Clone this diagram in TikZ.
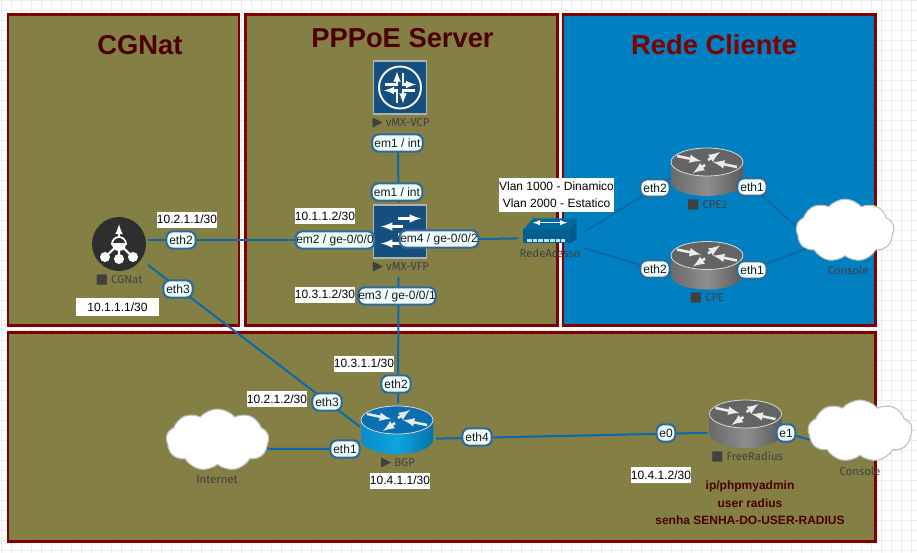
\documentclass[tikz,border=0pt]{standalone}
\usepackage{fontspec}
\setmainfont{Liberation Sans}
\newfontfamily\devfont{Fira Sans}
\newfontfamily\symfont{DejaVu Sans}
\usetikzlibrary{arrows,shapes.symbols}
\definecolor{olivepanel}{HTML}{837F45}
\definecolor{bluepanel}{HTML}{0180C1}
\definecolor{panelline}{HTML}{800000}
\definecolor{titlered}{HTML}{4D0000}
\definecolor{linkblue}{HTML}{0B69AB}
\definecolor{portline}{HTML}{2F6A9B}
\definecolor{juniper}{HTML}{144F7E}
\definecolor{greyleft}{HTML}{6A6A6A}
\definecolor{greymid}{HTML}{8E8E8E}
\definecolor{greyright}{HTML}{5A5A5A}
\definecolor{greytop}{HTML}{646464}
\definecolor{bgpleft}{HTML}{0A8CC8}
\definecolor{bgpmid}{HTML}{0EA5DC}
\definecolor{bgpright}{HTML}{0671AE}
\definecolor{bgptop}{HTML}{0A6FB0}
\newcommand{\sq}{{\symfont\fontsize{10}{10}\selectfont ■}\ }
\newcommand{\tri}{{\symfont\fontsize{10}{10}\selectfont ▶}\ }
\tikzset{
  panel/.style={draw=panelline,line width=2.5pt*0.75,fill=olivepanel},
  paneltitle/.style={inner sep=0pt,font=\fontsize{20.5}{24}\selectfont\bfseries,text=titlered},
  link/.style={draw=linkblue,line width=1.5pt},
  device/.style={inner sep=0pt,outer sep=0pt},
  port/.style={draw=portline,line width=1.6pt,fill=blue!4!cyan!6!white,rounded corners=5pt,inner sep=0pt,minimum height=13pt,text=black!90,font=\fontsize{9}{11}\selectfont},
  ipaddr/.style={fill=white,inner sep=0pt,minimum height=12pt,minimum width=45pt,font=\fontsize{9}{11}\selectfont},
  devname/.style={inner sep=0pt,text=black!75,font=\devfont\fontsize{8.5}{10}\selectfont},
  netcloud/.style={cloud,cloud puffs=9,cloud puff arc=100,draw=black!25,line width=0.8pt,fill=white,inner sep=0pt},
  note/.style={inner sep=0pt,text=titlered,font=\fontsize{9}{11}\selectfont\bfseries},
  pics/router/.style n args={4}{code={
    \path[shade,left color=#1,right color=#3,middle color=#2,shading angle=90] (-36,-10) -- (-36,10) arc[start angle=180,end angle=0,x radius=36,y radius=14] -- (36,-10) -- cycle;
    \draw[white!70!gray,line width=0.6pt,fill=#4] (0,-10) ellipse[x radius=36,y radius=14];
    \draw[line width=1.9pt,white!92!black,-latex] (-30,-16) -- (-6,-11);
    \draw[line width=1.9pt,white!92!black,-latex] (30,-5) -- (6,-10);
    \draw[line width=1.9pt,white!92!black,-latex] (1,-12) -- (13,-20);
    \draw[line width=1.9pt,white!92!black,-latex] (-2,-7) -- (-14,1);
  }},
  pics/junibox/.style={code={
    \draw[draw=black!30,line width=0.9pt,fill=juniper] (-26.5,-26.5) rectangle (26.5,26.5);
  }}
}
\begin{document}
\begin{tikzpicture}[x=0.75pt,y=-0.75pt]
\useasboundingbox (0,0) rectangle (917,553);
% grid
\foreach \gx in {0,...,91} \draw[black!8,line width=0.7pt] (1.7+10*\gx,0) -- (1.7+10*\gx,553);
\foreach \gy in {0,...,55} \draw[black!8,line width=0.7pt] (0,0.5+10*\gy) -- (917,0.5+10*\gy);

% panels
\draw[panel] (8.2,14.5) rectangle (238.8,325.5);
\draw[panel] (245.5,14.5) rectangle (557.3,325.5);
\draw[panel,fill=bluepanel] (563,14.5) rectangle (875.5,325.5);
\draw[panel] (8.2,332.3) rectangle (875.5,541.5);
\node[paneltitle] (tcgnat) at (140,45) {CGNat};
\node[paneltitle] (tpppoe) at (402.5,38) {PPPoE Server};
\node[paneltitle,text=panelline] (trede) at (714,45) {Rede Cliente};

% device areas, links start at their borders
\node[device,minimum width=43.5pt,minimum height=37.5pt] (cgnat) at (119,240) {};
\node[device,minimum width=39.75pt,minimum height=64.5pt] (vcp) at (398,104) {};
\node[device,minimum width=43.5pt,minimum height=55.5pt] (vfp) at (398.5,240) {};
\node[device,minimum width=49.5pt,minimum height=24pt] (rede) at (551,232) {};
\node[device,minimum width=54pt,minimum height=36pt] (cpe2) at (707,172) {};
\node[device,minimum width=54pt,minimum height=36pt] (cpe) at (707,265.5) {};
\node[device,minimum width=57pt,minimum height=43.5pt] (bgp) at (398,432) {};
\node[device,minimum width=57pt,minimum height=36pt] (radius) at (745.5,424) {};
\node[netcloud,minimum width=73.5pt,minimum height=47pt] (console) at (845,230.5) {};
\node[netcloud,minimum width=77pt,minimum height=46.5pt] (internet) at (217.5,440) {};
\node[netcloud,minimum width=78pt,minimum height=46.5pt] (console2) at (860,431) {};

% links
\draw[link] (vcp.south) -- (vfp.north);
\draw[link] (cgnat.east) -- (vfp.west);
\draw[link] (vfp.east) -- (rede.191);
\draw[link] (vfp.south) -- (bgp.north);
\draw[link] (cgnat.south east) -- (bgp.172);
\draw[link] (internet.-10) -- (bgp.204);
\draw[link] (bgp.-10) -- (radius.193);
\draw[link] (radius.-12) -- (console2.190);
\draw[link] (rede.east) -- (cpe2.190);
\draw[link] (rede.south east) -- (cpe.193);
\draw[link] (cpe2.-10) -- (console.175);
\draw[link] (cpe.-11) -- (console.205);

% icons
\pic at (400,87.5) {junibox};
\begin{scope}[shift={(400,87.5)}]
  \draw[white,line width=1.4pt] (0,0) circle (21);
  \foreach \rr in {0,90,180,270}
    \draw[rotate=\rr,white,line width=1.6pt,-latex] (-15,-3) -- (-3,-3) -- (-3,-16);
\end{scope}
\pic at (400,231.5) {junibox};
\begin{scope}[shift={(400,231.5)},white,line width=1.9pt,-latex]
  \draw (-2,-13) -- (21,-13);
  \draw (3,-5) -- (-19,-5);
  \draw (0,12) -- (-19,12);
  \draw (-2,3) -- (21,3);
\end{scope}
\begin{scope}[shift={(119,244)}]
  \fill[black!82] (0,0) circle (27);
  \draw[white,line width=1.6pt,-latex] (0,-5) -- (0,-20);
  \draw[white,line width=1.6pt] (0,0) -- (-14,13) (0,0) -- (0,15) (0,0) -- (14,13);
  \fill[white] (-14,13) circle (5) (0,15) circle (5) (14,13) circle (5);
  \draw[white,line width=1.3pt,fill=black!82] (-7,0) arc[start angle=180,end angle=360,x radius=7,y radius=7] -- cycle;
  \fill[white] (-7,0) arc[start angle=180,end angle=0,x radius=7,y radius=7] -- cycle;
\end{scope}
\begin{scope}[shift={(550,230)}]
  \fill[bluepanel!75!black] (-26.7,-0.7) -- (21,-0.7) -- (21,13.3) -- (-26.7,13.3) -- cycle;
  \fill[bluepanel!70!black] (21,-0.7) -- (26.7,-11.7) -- (26.7,8.3) -- (21,13.3) -- cycle;
  \fill[bluepanel!82!black] (-16.7,-11.7) -- (26.7,-11.7) -- (21,-0.7) -- (-26.7,-0.7) -- cycle;
  \draw[white,line width=0.8pt,latex-latex] (-17,-7.3) -- (17,-7.3);
  \draw[white!75!bluepanel,line width=2.4pt,dash pattern=on 3.5pt off 0.8pt] (-23,10.5) -- (15,10.5);
\end{scope}
\pic at (707,172) {router={greyleft}{greymid}{greyright}{greytop}};
\pic at (707,265.5) {router={greyleft}{greymid}{greyright}{greytop}};
\pic at (745.5,424) {router={greyleft}{greymid}{greyright}{greytop}};
\pic at (397,430) {router={bgpleft}{bgpmid}{bgpright}{bgptop}};

% device names
\node[devname] (ncgnat) at (119,280) {\sq CGNat};
\node[devname] (nvcp) at (401,123) {\tri vMX-VCP};
\node[devname] (nvfp) at (401,267) {\tri vMX-VFP};
\node[devname] (nrede) at (550,253) {RedeAcesso};
\node[devname] (ncpe2) at (707,205) {\sq CPE2};
\node[devname] (ncpe) at (707,298) {\sq CPE};
\node[devname] (nconsole) at (848,270) {Console};
\node[devname] (nbgp) at (398,463) {\tri BGP};
\node[devname] (ninternet) at (217,480) {Internet};
\node[devname] (nradius) at (747,457) {\sq FreeRadius};
\node[devname] (nconsole2) at (860,471) {Console};

% interfaces
\node[port,minimum width=22pt] (p1) at (181,240) {eth2};
\node[port,minimum width=22pt] (p2) at (178,289) {eth3};
\node[port,minimum width=38pt] (p3) at (397.5,143) {em1 / int};
\node[port,minimum width=38pt] (p4) at (397,192) {em1 / int};
\node[port,minimum width=59pt] (p5) at (335,240) {em2 / ge-0/0/0};
\node[port,minimum width=59pt] (p6) at (439,239) {em4 / ge-0/0/2};
\node[port,minimum width=58pt] (p7) at (397,296) {em3 / ge-0/0/1};
\node[port,minimum width=22pt] (p8) at (396,384) {eth2};
\node[port,minimum width=22pt] (p9) at (327,402) {eth3};
\node[port,minimum width=22pt] (p10) at (345,449) {eth1};
\node[port,minimum width=22pt] (p11) at (477,437) {eth4};
\node[port,minimum width=14pt] (p12) at (666,433) {e0};
\node[port,minimum width=14pt] (p13) at (786,433) {e1};
\node[port,minimum width=22pt] (p14) at (655,188) {eth2};
\node[port,minimum width=22pt] (p15) at (752,187) {eth1};
\node[port,minimum width=22pt] (p16) at (655,269) {eth2};
\node[port,minimum width=22pt] (p17) at (752,270) {eth1};

% addresses
\node[ipaddr] (ip1) at (187,219.5) {10.2.1.1/30};
\node[ipaddr,minimum width=62pt,minimum height=13.5pt] (ip2) at (117.5,307) {10.1.1.1/30};
\node[ipaddr] (ip3) at (325,216) {10.1.1.2/30};
\node[ipaddr] (ip4) at (325,294.5) {10.3.1.2/30};
\node[ipaddr] (ip5) at (364,363.5) {10.3.1.1/30};
\node[ipaddr] (ip6) at (277,399) {10.2.1.2/30};
\node[ipaddr] (ip7) at (400,480.5) {10.4.1.1/30};
\node[ipaddr] (ip8) at (661,475) {10.4.1.2/30};
\node[fill=white,inner sep=0pt,minimum width=85pt,minimum height=26pt,align=center,font=\fontsize{9}{12.75}\selectfont] (vlan) at (556.5,195) {Vlan 1000 - Dinamico\\Vlan 2000 - Estatico};

% notes
\node[note] (n1) at (750,486) {ip/phpmyadmin};
\node[note] (n2) at (750,503) {user radius};
\node[note] (n3) at (750,520) {senha SENHA-DO-USER-RADIUS};
\end{tikzpicture}
\end{document}
